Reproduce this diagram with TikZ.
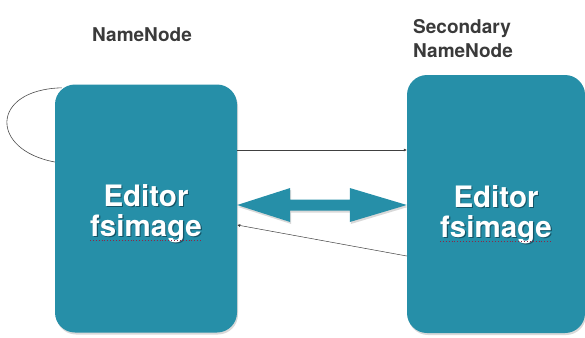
\documentclass[tikz,border=0pt]{standalone}
\usepackage{fontspec}
\setmainfont{TeX Gyre Heros}
\usepackage{xcolor}
\usepackage{tikz}
\usetikzlibrary{calc,arrows.meta,shadows}
\definecolor{hdfs}{RGB}{38,143,168}
\definecolor{hdfsdark}{RGB}{20,84,102}
\definecolor{labelgray}{RGB}{58,58,58}
\definecolor{typored}{RGB}{140,40,70}

% white text with a soft darker copy behind it
\newcommand{\embossed}[1]{\rlap{\kern1.2pt\raisebox{-1.2pt}{\textcolor{hdfsdark}{#1}}}#1}

\tikzset{
  server/.style={rounded corners=20pt, fill=hdfs, draw=none,
    drop shadow={shadow xshift=1pt, shadow yshift=-2pt, opacity=.3}},
  boxtext/.style={text=white, inner sep=0pt, font=\fontsize{29.5}{32}\selectfont\bfseries},
  role/.style={text=labelgray, inner sep=0pt, align=left, font=\fontsize{19}{24}\selectfont\bfseries},
  msg/.style={draw=black!75, line width=0.5pt, -{Latex[length=3pt,width=3pt]}},
  sync/.style={fill=hdfs, drop shadow={shadow xshift=1pt, shadow yshift=-2pt, opacity=.3}},
  typo/.style={draw=typored, dotted, line width=0.9pt},
}

\begin{document}
\begin{tikzpicture}[x=1pt, y=-1pt]
  \useasboundingbox (0,0) rectangle (585,337);

  % Servers
  \node[server, minimum width=182pt, minimum height=248pt] (nn) at (146,208.5) {};
  \node[server, minimum width=178pt, minimum height=258pt] (snn) at (496,204) {};

  % Titles
  \node[role, anchor=north west] (nnlabel) at (92,27) {NameNode};
  \node[role, anchor=north west] (snnlabel) at (413,19) {Secondary\\NameNode};

  % Box contents
  \node[boxtext, anchor=base] (nned) at ($(nn)+(0,-2)$) {\embossed{Editor}};
  \node[boxtext, anchor=base] (nnfs) at ($(nn)+(0,28)$) {\embossed{fsimage}};
  \node[boxtext, anchor=base] (snned) at ($(snn)+(0,3)$) {\embossed{Editor}};
  \node[boxtext, anchor=base] (snnfs) at ($(snn)+(0,33)$) {\embossed{fsimage}};
  \draw[typo] ([yshift=-4pt]nnfs.base west) -- ([yshift=-4pt]nnfs.base east);
  \draw[typo] ([yshift=-4pt]snnfs.base west) -- ([yshift=-4pt]snnfs.base east);

  % Messages between the nodes
  \draw[msg] ([yshift=58.5pt]nn.east) -- ([yshift=54pt]snn.west);
  \draw[msg] ([yshift=-52pt]snn.west) -- ([yshift=-16.5pt]nn.east);

  % Sync arrow
  \coordinate (sl) at ($(nn.east)+(0,-3.5)$);
  \coordinate (sr) at ($(snn.west)+(0,1)$);
  \fill[sync] (sl) -- ++(53,-17) -- ++(0,11.5) -- ($(sr)+(-57,-5.5)$) -- ++(0,-11.5)
    -- (sr) -- ++(-57,17) -- ++(0,-11.5) -- ($(sl)+(53,5.5)$) -- ++(0,11.5) -- cycle;

  % Self loop
  \draw[black!70, line width=0.6pt] ([xshift=7pt,yshift=-3.5pt]nn.north west)
    .. controls +(-72,2) and +(-65,-12) .. ([yshift=46.5pt]nn.west);
\end{tikzpicture}
\end{document}
